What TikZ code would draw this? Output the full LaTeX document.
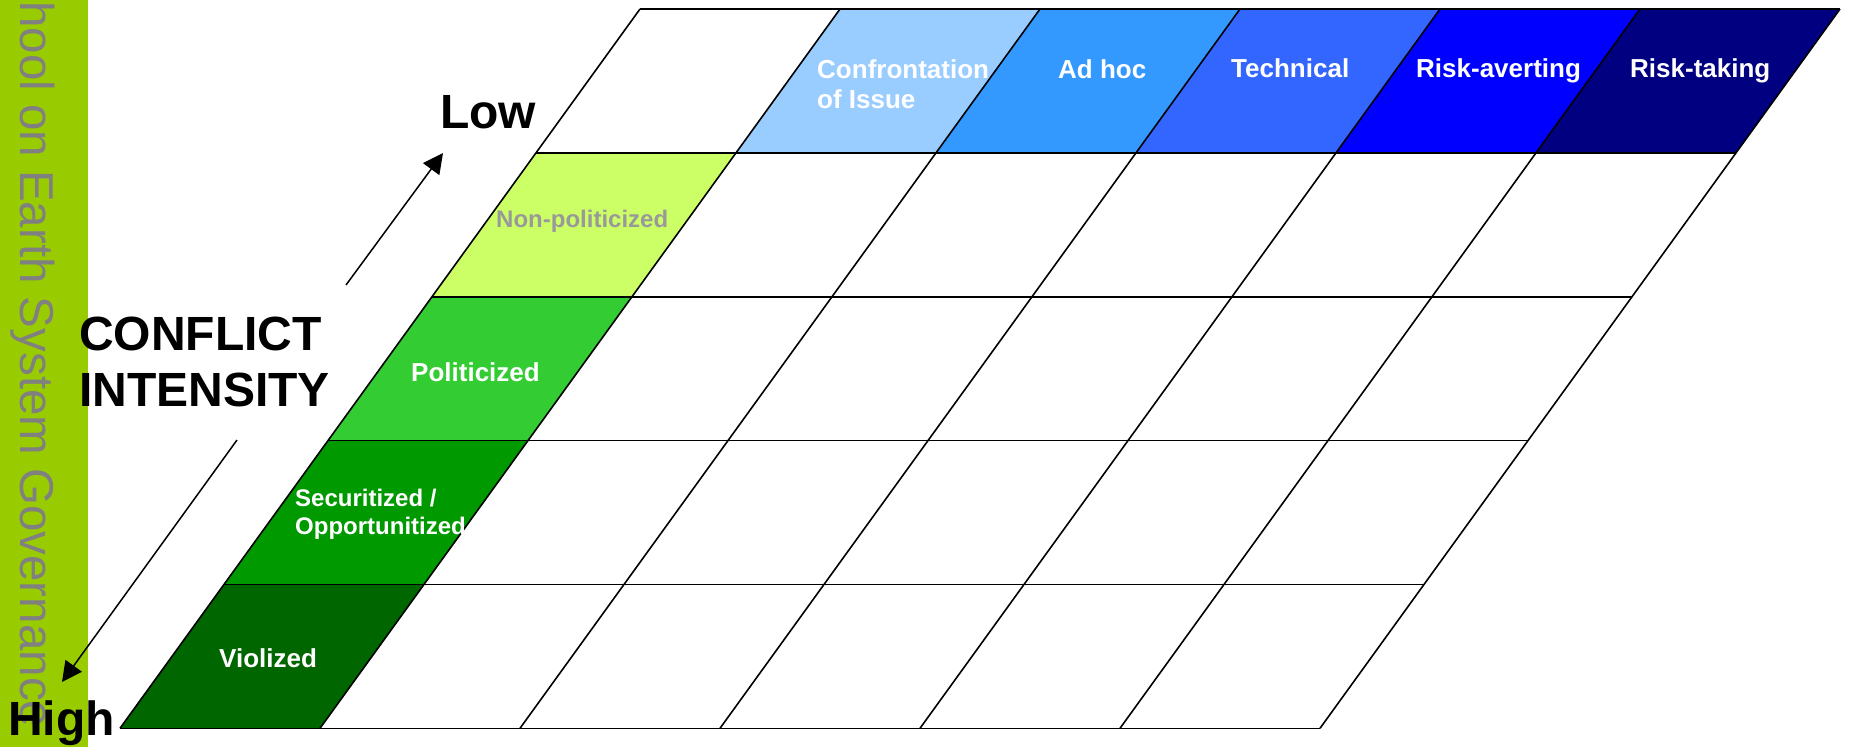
\documentclass[tikz,border=0pt]{standalone}
\usepackage{fontspec}
\setmainfont{Liberation Sans}
\usetikzlibrary{arrows.meta}
\definecolor{barGreen}{RGB}{153,204,0}
\definecolor{cA}{RGB}{153,204,255}
\definecolor{cB}{RGB}{51,153,255}
\definecolor{cC}{RGB}{51,102,255}
\definecolor{cD}{RGB}{0,0,255}
\definecolor{cE}{RGB}{0,0,128}
\definecolor{gA}{RGB}{204,255,102}
\definecolor{gB}{RGB}{51,204,51}
\definecolor{gC}{RGB}{0,153,0}
\definecolor{gD}{RGB}{0,102,0}
\definecolor{npGray}{RGB}{153,153,153}
\definecolor{barText}{RGB}{128,128,128}
\begin{document}
\begin{tikzpicture}[x=1pt,y=-1pt,
  gridline/.style={line width=1.6pt, line join=round},
  lbl/.style={anchor=base west, inner sep=0pt, text=white, font=\bfseries\fontsize{26}{30}\selectfont, align=left},
  big/.style={anchor=base west, inner sep=0pt, font=\bfseries\fontsize{48}{56}\selectfont, align=left},
  arr/.style={line width=1.5pt, -{Triangle[length=20pt,width=20pt]}}]
\useasboundingbox (0,0) rectangle (1849,747);
\clip (0,0) rectangle (1849,747);
\foreach \i in {0,...,6}{\foreach \k in {0,...,5}{\coordinate (p\i-\k) at ({640-104*\k+200*\i},{9+143.86*\k});}}
% coloured cells
\foreach \i/\c in {1/cA,2/cB,3/cC,4/cD,5/cE}{
  \pgfmathtruncatemacro\j{\i+1}
  \fill[\c] (p\i-0) -- (p\j-0) -- (p\j-1) -- (p\i-1) -- cycle;}
\foreach \k/\c in {1/gA,2/gB,3/gC,4/gD}{
  \pgfmathtruncatemacro\m{\k+1}
  \fill[\c] (p0-\k) -- (p1-\k) -- (p1-\m) -- (p0-\m) -- cycle;}
% grid
\foreach \k in {0,...,5}{\draw[gridline] (p0-\k) -- (p6-\k);}
\foreach \i in {0,...,6}{\draw[gridline] (p\i-0) -- (p\i-5);}
% side bar
\fill[barGreen] (0,0) rectangle (88,747);
\node[rotate=-90, anchor=base west, inner sep=0pt, text=barText, font=\fontsize{47.5}{50}\selectfont] (school) at (20,1) {hool on Earth System Governance};
% labels
\node[big] (low) at (440,128) {Low};
\node[big] (high) at (8,735) {High};
\node[big] (ci) at (79,406) {CONFLICT\\INTENSITY};
\node[lbl] (conf) at (817,108) {Confrontation\\of Issue};
\node[lbl] (adhoc) at (1058,78) {Ad hoc};
\node[lbl] (tech) at (1231,77) {Technical};
\node[lbl] (ravert) at (1416,77) {Risk-averting};
\node[lbl] (rtake) at (1630,77) {Risk-taking};
\node[lbl, text=npGray, font=\bfseries\fontsize{24}{28}\selectfont] (nonpol) at (496,227) {Non-politicized};
\node[lbl] (pol) at (411,381) {Politicized};
\node[lbl, font=\bfseries\fontsize{24}{28}\selectfont] (sec) at (295,534) {Securitized /\\Opportunitized};
\node[lbl] (viol) at (219,667) {Violized};
% arrows
\coordinate (upS) at (346,285); \coordinate (upE) at (443,153);
\coordinate (dnS) at (237,440); \coordinate (dnE) at (62,682);
\draw[arr] (upS) -- (upE);
\draw[arr] (dnS) -- (dnE);
\end{tikzpicture}
\end{document}
